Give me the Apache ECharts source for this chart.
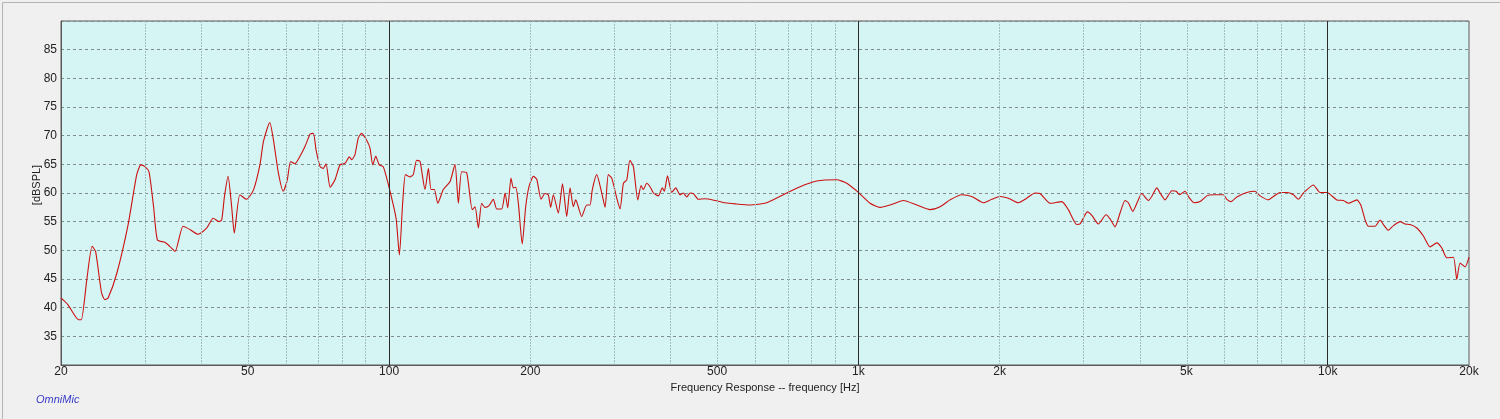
<!DOCTYPE html>
<html>
<head>
<meta charset="utf-8">
<script src="https://cdn.jsdelivr.net/npm/echarts@6/dist/echarts.min.js"></script>
<style>
html,body{margin:0;padding:0;background:#f0f0f0;}
#chart{width:1500px;height:419px;}
</style>
</head>
<body>
<div id="chart"></div>
<script>
// Frequency (Hz) of each sampled point
const freqHz = [
20,20.7,21.8,22.1,22.7,23.3,23.7,24.4,24.8,25.2,26.3,27.8,29.0,29.6,30.2,30.8,31.5,32.1,33.3,34.1,35.0,36.4,37.7,39.2,40.9,42.2,43.4,44.0,44.6,45.4,46.2,46.8,48.1,49.7,51.4,53.1,54.0,55.7,56.7,58.1,59.5,60.7,61.7,63.0,64.6,66.2,67.9,69.0,69.9,71.3,72.4,73.4,74.9,76.7,78.6,80.6,82.3,83.3,84.6,86.0,87.4,89.6,91.1,92.3,93.7,95.3,97.2,
100,103.5,105.2,106.9,108.4,110.8,112.6,114.5,116.4,119.3,121.3,122.9,124.9,127.0,130.5,134.9,138.2,140.5,142.8,146.4,150.4,152.5,155.0,157.5,160.1,163.3,166.8,169.6,173.8,176.7,179.0,181.9,184.0,186.2,188.6,192.2,195.5,198.7,
203.0,206.4,210.8,214.9,218.4,221.0,223.9,229.4,234.2,239.1,243.0,247.0,249.9,257.3,263.7,268.0,271.1,277.0,283.9,288.6,293.2,298.2,305.6,310.6,315.7,321.0,326.0,331.6,338.8,344.4,348.2,354.0,359.8,365.8,374.8,382.2,386.0,392.0,
400.2,408.2,416.9,423.6,430.9,437.9,445.0,456.0,471.3,495.1,520.0,546.2,587.8,637.8,692.0,751.1,815.1,899,944.6,
1000,1059,1112,1168,1247,1332,1422,1493,1568,1660,1744,1847,1924,2004,2087,2192,2284,2380,2439,2561,2712,2801,2920,2967,3076,3143,3246,3370,3437,3522,3610,3700,3760,3842,3948,
4016,4148,4218,4323,4394,4503,4654,4754,4831,4966,5048,5192,5346,5525,5708,5996,6096,6217,6402,6724,7004,7178,7475,7662,7918,8180,8451,8661,8876,9320,9632,9954,
10455,10800,11068,11534,11762,12014,12208,12617,12930,13143,13468,13803,14266,14618,14982,15482,15990,16524,17077,17500,17936,18528,18835,19144,19620,20000
];
// Level (dB SPL) at each frequency
const splDb = [
41.7,40.5,37.9,37.9,44.9,50.7,49.8,42.6,41.4,41.7,46.0,54.5,63.2,64.9,64.6,63.7,57.6,51.8,51.4,50.7,49.8,54.2,53.6,52.8,53.9,55.6,55.0,55.3,59.4,62.9,57.6,53.0,59.7,58.9,60.5,65.0,69.0,72.3,69.3,63.5,60.3,62.3,65.5,65.1,66.4,68.1,70.3,70.4,67.5,64.6,64.3,65.1,61.0,62.3,64.9,65.2,66.3,65.8,66.7,69.6,70.4,69.2,67.8,64.9,66.4,64.9,64.6,
61.0,55.6,49.2,58.2,63.2,62.8,63.2,65.7,65.5,60.6,64.3,60.6,60.6,58.2,60.6,62.0,65.0,58.2,63.7,63.5,57.1,57.6,53.9,58.2,57.5,57.8,58.9,57.2,57.2,60.0,57.4,62.6,60.9,61.0,58.2,51.1,57.6,61.1,
62.9,62.4,58.9,59.9,59.7,57.5,59.7,56.5,61.6,55.9,60.9,57.6,58.8,55.9,57.9,57.9,60.6,63.2,60.0,57.5,63.2,62.6,59.1,57.2,61.7,62.3,65.7,64.6,58.8,61.3,60.6,61.7,61.1,60.0,59.5,60.9,60.3,63.0,
60.1,60.9,59.7,60.0,59.3,60.0,59.9,58.9,59.0,58.7,58.3,58.1,57.9,58.3,59.7,61.1,62.1,62.3,61.7,
60.1,58.2,57.5,57.9,58.7,57.9,57.1,57.6,58.8,59.7,59.4,58.3,58.9,59.4,59.1,58.3,59.1,60.0,59.9,58.2,58.5,57.1,54.5,54.6,56.7,56.1,54.6,56.2,55.5,54.1,56.5,58.7,58.3,56.8,58.8,
59.9,58.7,59.4,60.9,60.0,58.8,60.4,60.3,59.7,60.3,59.4,58.3,58.5,59.5,59.7,59.7,58.9,58.5,59.3,60.1,60.3,59.5,58.8,59.4,60.1,60.1,59.7,58.9,60.0,61.4,60.1,60.1,
58.8,58.7,58.2,58.8,57.9,55.3,54.2,54.2,55.3,54.5,53.5,54.3,55.0,54.6,54.5,53.9,52.5,50.6,51.3,50.4,48.7,48.8,44.9,47.8,47.1,48.8
];
// Tick labels on the frequency axis
const xTickFreqs = [20, 50, 100, 200, 500, 1000, 2000, 5000, 10000, 20000];
const xTickLabels = ['20', '50', '100', '200', '500', '1k', '2k', '5k', '10k', '20k'];
// Vertical grid lines
const minorGridFreqs = [30,40,50,60,70,80,90,200,300,400,500,600,700,800,900,2000,3000,4000,5000,6000,7000,8000,9000];
const majorGridFreqs = [100, 1000, 10000];

const lg = Math.log10;
const points = freqHz.map((f, i) => [lg(f), splDb[i]]);
const labelMap = {};
xTickFreqs.forEach((f, i) => { labelMap[lg(f).toFixed(5)] = xTickLabels[i]; });

const gridLines = minorGridFreqs.map(f => ({
  xAxis: lg(f),
  lineStyle: { color: '#a3c0c0', type: [2, 1], width: 1 }
})).concat(majorGridFreqs.map(f => ({
  xAxis: lg(f),
  lineStyle: { color: '#2a2a2a', type: 'solid', width: 1 }
})));

const chart = echarts.init(document.getElementById('chart'), null, { renderer: 'canvas' });
const font = 'Liberation Sans, Arial, sans-serif';
chart.setOption({
  animation: false,
  backgroundColor: '#f0f0f0',
  textStyle: { fontFamily: font },
  graphic: [
    { type: 'rect', left: 0, top: 0, shape: { width: 1499, height: 418 }, style: { fill: 'none', stroke: '#b4b4b4', lineWidth: 1 }, silent: true },
    { type: 'text', left: 36, top: 394, style: { text: 'OmniMic', fill: '#3a3ac8', font: 'italic 11px ' + font } }
  ],
  grid: {
    left: 61, right: 31, top: 21, bottom: 54,
    show: true, backgroundColor: '#d5f4f4', borderColor: '#5a5a5a', borderWidth: 1
  },
  xAxis: {
    type: 'value',
    min: lg(20), max: lg(20000),
    name: 'Frequency Response -- frequency [Hz]',
    nameLocation: 'middle', nameGap: 10,
    nameTextStyle: { color: '#222', fontSize: 11, fontFamily: font },
    axisLine: { show: true, lineStyle: { color: '#5a5a5a', width: 1 } },
    axisTick: { show: false },
    splitLine: { show: false },
    axisLabel: {
      customValues: xTickFreqs.map(lg),
      formatter: v => labelMap[v.toFixed(5)] || '',
      color: '#222', fontSize: 12, margin: 1, fontFamily: font
    }
  },
  yAxis: {
    type: 'value', min: 30, max: 90, interval: 5,
    name: '[dBSPL]', nameLocation: 'middle', nameRotate: 90, nameGap: 19,
    nameMoveOverlap: false,
    nameTextStyle: { color: '#222', fontSize: 11, fontFamily: font, padding: [0, 0, 0, 16] },
    axisLine: { show: true, lineStyle: { color: '#5a5a5a', width: 1 } },
    axisTick: { show: false },
    axisLabel: { showMinLabel: false, showMaxLabel: false, color: '#222', fontSize: 12, margin: 4, fontFamily: font },
    splitLine: { show: true, lineStyle: { color: '#808c8c', type: [3, 3], width: 1 } }
  },
  series: [{
    type: 'line',
    data: points,
    showSymbol: false,
    smooth: 0.2,
    lineStyle: { color: '#cc1010', width: 1.1 },
    markLine: {
      silent: true, symbol: 'none', label: { show: false },
      animation: false,
      data: gridLines
    },
    z: 3
  }]
});
</script>
</body>
</html>
